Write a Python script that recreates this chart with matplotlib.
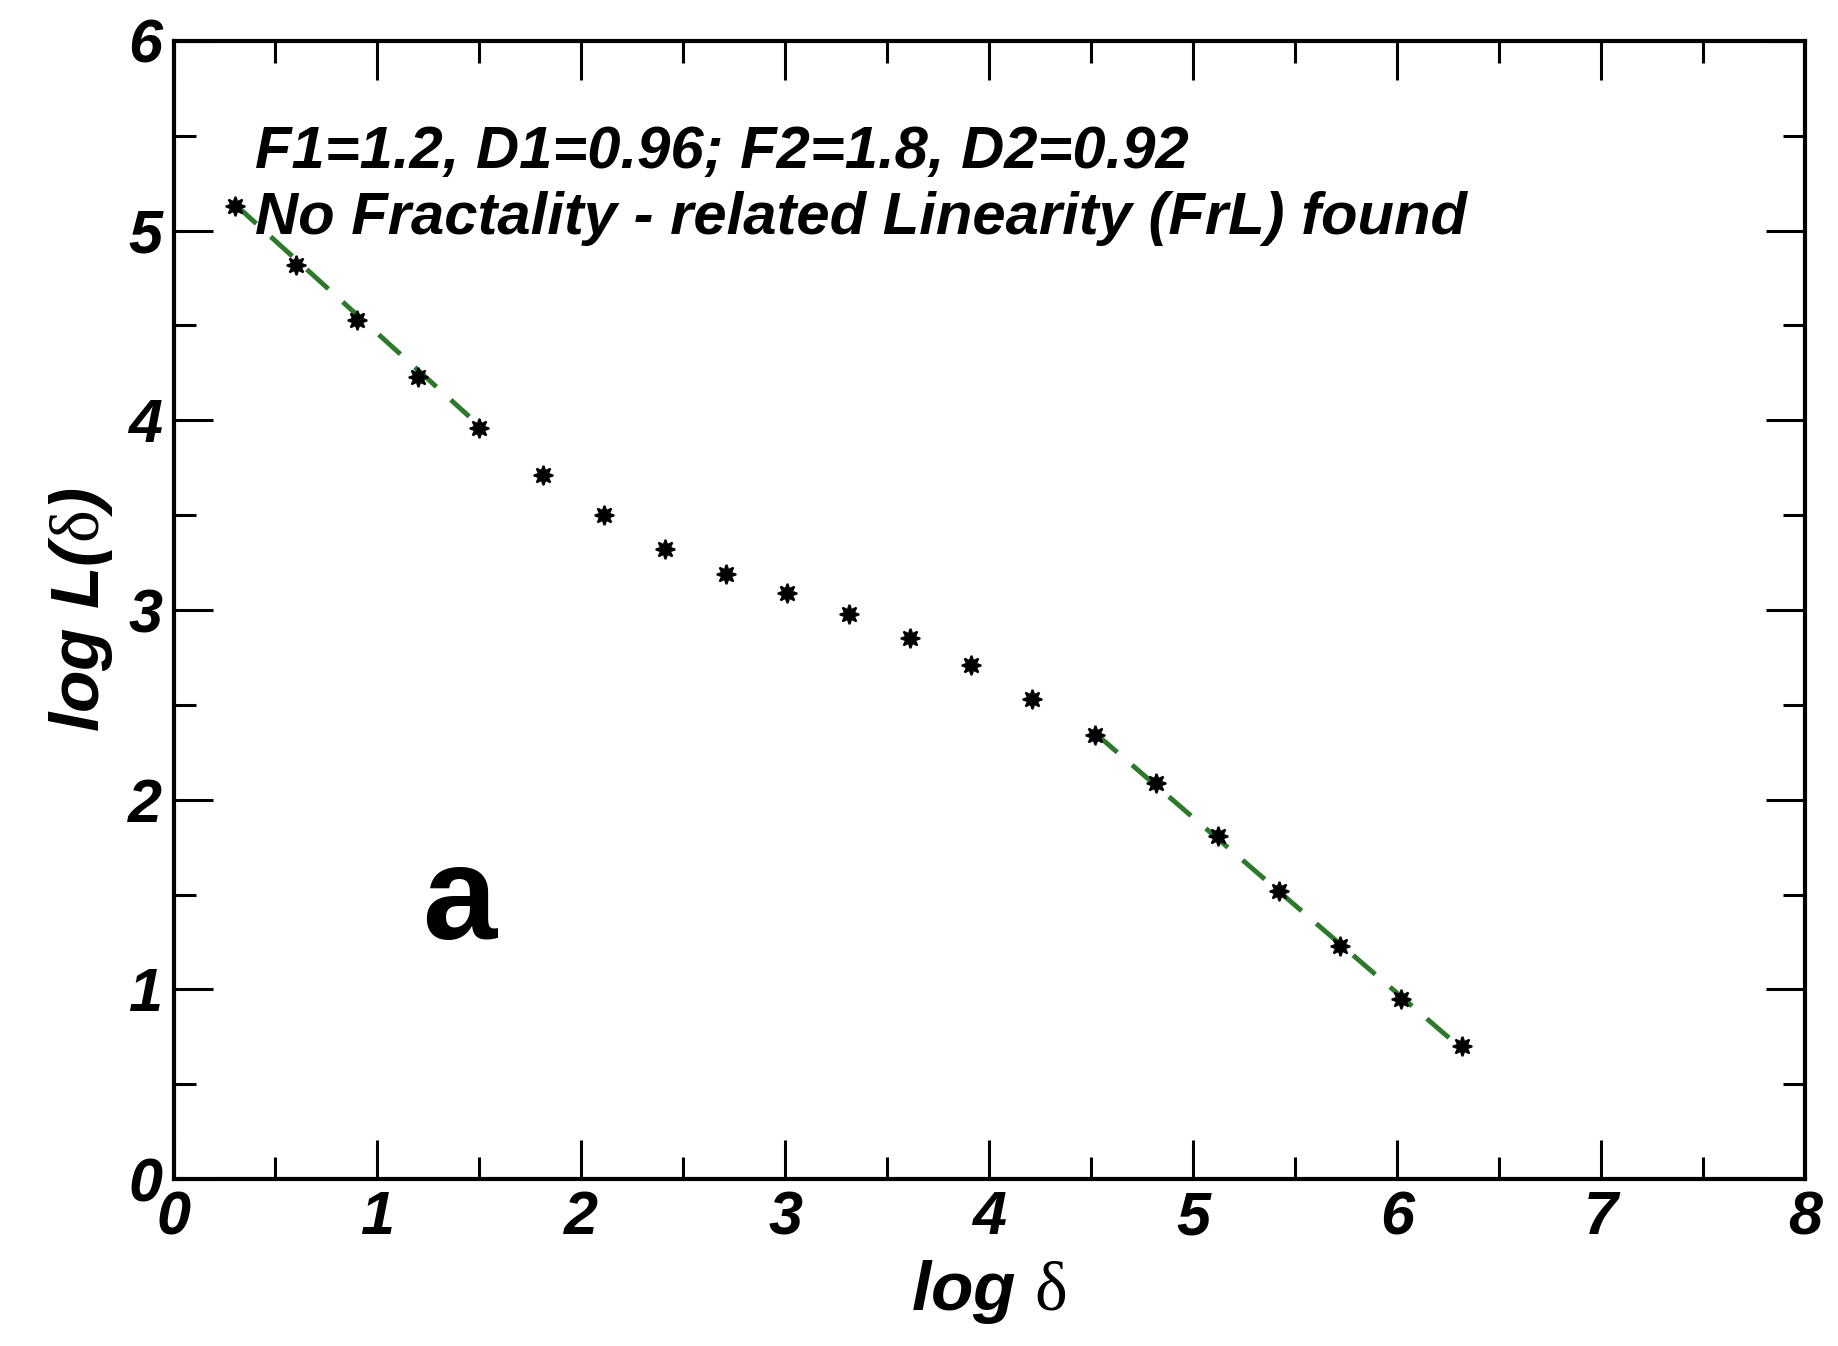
"""
log L(delta) vs log delta, fractality check (panel a)
"""

import matplotlib
matplotlib.use('Agg')
import matplotlib.pyplot as plt
from matplotlib.ticker import MultipleLocator

# data
log_delta = [0.30, 0.60, 0.90, 1.20, 1.50, 1.81, 2.11, 2.41, 2.71, 3.01, 3.31,
             3.61, 3.91, 4.21, 4.52, 4.82, 5.12, 5.42, 5.72, 6.02, 6.32]
log_L = [5.13, 4.82, 4.53, 4.23, 3.96, 3.71, 3.50, 3.32, 3.19, 3.09, 2.98,
         2.85, 2.71, 2.53, 2.34, 2.09, 1.81, 1.52, 1.23, 0.95, 0.70]

# fitted segments (green dashed)
fit1_x = [0.30, 1.45]
fit1_y = [5.14, 4.02]
fit2_x = [4.52, 6.26]
fit2_y = [2.35, 0.74]

info_line1 = 'F1=1.2, D1=0.96; F2=1.8, D2=0.92'
info_line2 = 'No Fractality - related Linearity (FrL) found'

plt.rcParams['font.family'] = ['Liberation Sans', 'DejaVu Sans']
plt.rcParams['mathtext.fontset'] = 'custom'
plt.rcParams['mathtext.rm'] = 'Liberation Serif'
plt.rcParams['mathtext.it'] = 'Liberation Serif:italic'

fig = plt.figure(figsize=(18.38, 13.46), dpi=100)
ax = fig.add_axes([0.0944, 0.124, 0.8876, 0.8456])

ax.plot(fit1_x, fit1_y, color='#2a7a2a', lw=3.5, dashes=(6, 4), zorder=2)
ax.plot(fit2_x, fit2_y, color='#2a7a2a', lw=3.5, dashes=(6, 4), zorder=2)
ax.plot(log_delta, log_L, ls='none', marker=(8, 1, 0), ms=14, color='black',
        markeredgewidth=1.4, zorder=3)

ax.set_xlim(0, 8)
ax.set_ylim(0, 6)
ax.xaxis.set_major_locator(MultipleLocator(1))
ax.xaxis.set_minor_locator(MultipleLocator(0.5))
ax.yaxis.set_major_locator(MultipleLocator(1))
ax.yaxis.set_minor_locator(MultipleLocator(0.5))
ax.tick_params(which='both', direction='in', top=True, right=True, width=2.2)
ax.tick_params(which='major', length=28, labelsize=44, pad=8)
ax.tick_params(which='minor', length=16)
for s in ax.spines.values():
    s.set_linewidth(3)
for lab in ax.get_xticklabels() + ax.get_yticklabels():
    lab.set_fontweight('bold')
    lab.set_fontstyle('italic')

ax.set_xlabel(r'log $\mathrm{\delta}$', fontsize=50, fontweight='bold',
              fontstyle='italic', labelpad=8)
ax.set_ylabel(r'log L($\mathrm{\delta}$)', fontsize=50, fontweight='bold',
              fontstyle='italic', labelpad=10)

ax.text(0.40, 5.33, info_line1, fontsize=43, fontweight='bold',
        fontstyle='italic', va='baseline', ha='left')
ax.text(0.40, 4.98, info_line2, fontsize=43, fontweight='bold',
        fontstyle='italic', va='baseline', ha='left')
ax.text(1.40, 1.45, 'a', fontsize=96, fontweight='bold', va='center',
        ha='center')

plt.savefig('out.png', dpi=100)
plt.close()
